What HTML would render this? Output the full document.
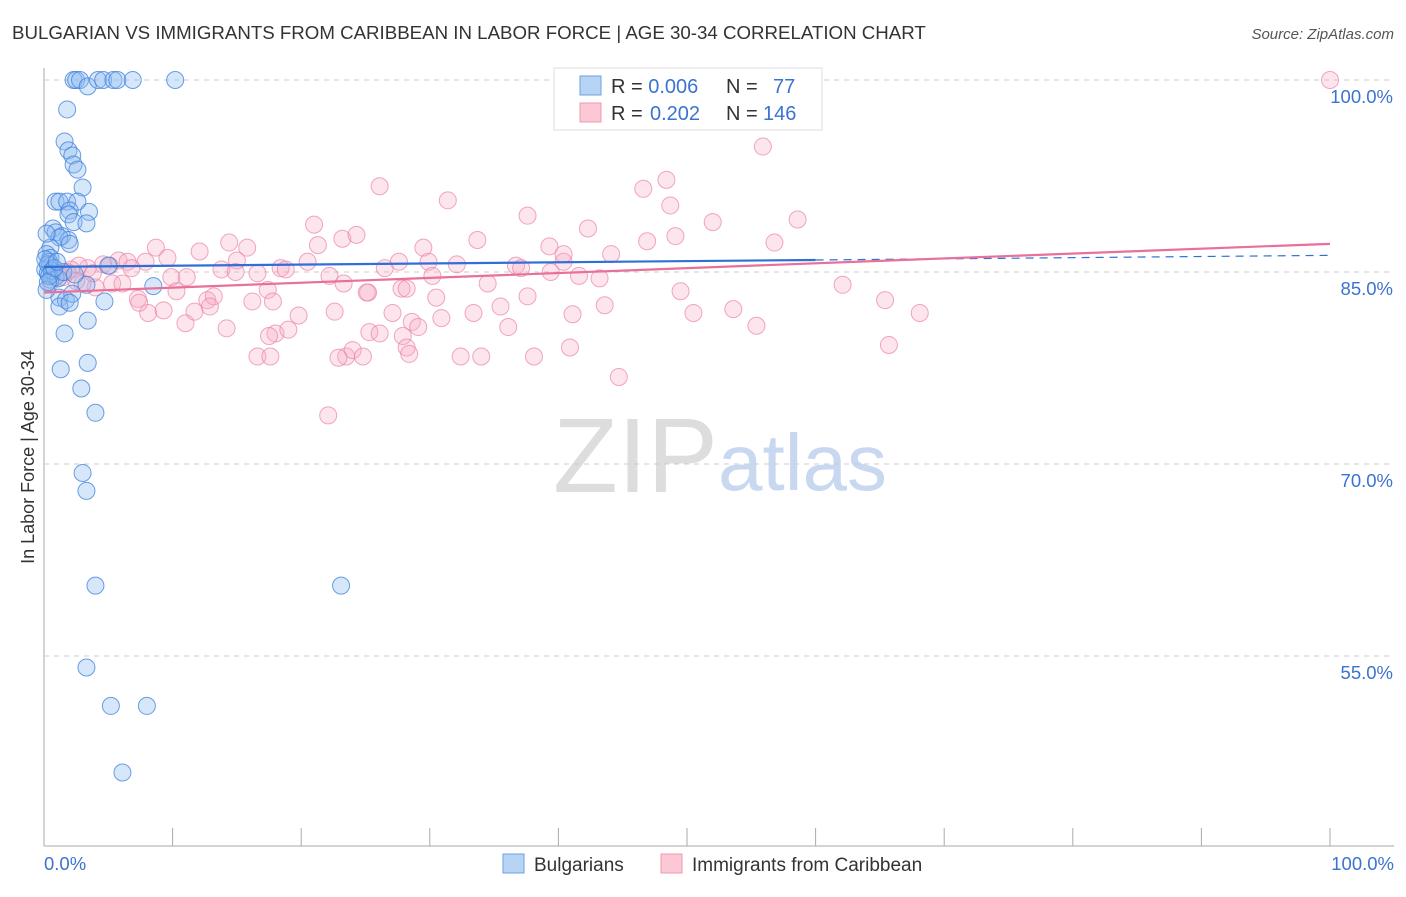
<!DOCTYPE html>
<html><head><meta charset="utf-8"><style>
body{margin:0;background:#fff;font-family:"Liberation Sans",sans-serif;}
svg text{font-family:"Liberation Sans",sans-serif;}
</style></head><body>
<svg id="chart" width="1406" height="892">
<text x="12" y="39" font-size="18.7" fill="#333">BULGARIAN VS IMMIGRANTS FROM CARIBBEAN IN LABOR FORCE | AGE 30-34 CORRELATION CHART</text>
<text x="1394" y="39" font-size="15" fill="#555" text-anchor="end" font-style="italic">Source: ZipAtlas.com</text>
<text x="34" y="457" font-size="18" fill="#333" text-anchor="middle" transform="rotate(-90 34 457)">In Labor Force | Age 30-34</text>
<text x="553" y="492" font-size="106" fill="#ddd" font-family="Liberation Serif">ZIP</text>
<text x="718" y="490" font-size="80" fill="#c8d8f0">atlas</text>
<g id="grid"></g><g id="pts"></g><g id="trend"></g>
<g>
<rect x="554" y="68" width="268" height="62" fill="#fff" stroke="#ddd"/>
<rect x="580" y="76" width="21" height="19" fill="#b8d4f5" stroke="#6fa0e0"/>
<rect x="580" y="103" width="21" height="19" fill="#fcc8d6" stroke="#ee9ab2"/>
<text x="611" y="93" font-size="20" fill="#333">R = <tspan fill="#3b73d0">0.006</tspan><tspan x="726">N =</tspan><tspan x="773" fill="#3b73d0">77</tspan></text>
<text x="611" y="120" font-size="20" fill="#333">R = <tspan x="650" fill="#3b73d0">0.202</tspan><tspan x="726">N =</tspan><tspan x="763" fill="#3b73d0">146</tspan></text>
</g>
<g>
<rect x="503" y="854" width="21" height="19" fill="#b8d4f5" stroke="#6fa0e0"/>
<text x="534" y="871" font-size="19" fill="#333">Bulgarians</text>
<rect x="661" y="854" width="21" height="19" fill="#fcc8d6" stroke="#ee9ab2"/>
<text x="692" y="871" font-size="19" fill="#333">Immigrants from Caribbean</text>
</g>
</svg>
<script>
const blueX=[2.3,2.5,2.8,3.4,4.2,4.6,5.4,5.7,6.9,10.2,1.8,1.6,1.9,2.2,2.3,2.6,3.0,0.9,1.2,1.8,2.6,2.0,1.9,3.5,2.3,3.3,0.7,0.9,1.4,1.9,1.2,2.0,0.5,0.2,0.5,0.4,0.5,0.1,0.3,0.6,0.9,0.5,3.3,8.5,1.2,1.7,2.2,4.7,1.2,2.0,3.4,1.6,1.3,3.4,2.9,4.0,3.0,3.3,4.0,23.1,3.3,5.2,8.0,6.1,5.0,0.6,1.1,0.2,0.3,0.1,0.4,1.5,2.4,0.8,0.3,1.0,0.2];
const blueY=[100,100,100,99.5,100,100,100,100,100,100,97.7,95.2,94.5,94.1,93.4,93.0,91.6,90.5,90.5,90.5,90.5,89.8,89.5,89.7,88.9,88.8,88.4,88.1,87.8,87.5,87.7,87.2,86.9,86.4,86.1,85.8,85.5,85.2,84.9,84.8,84.6,84.4,84.0,83.9,83.0,82.8,83.3,82.7,82.3,82.6,81.2,80.2,77.4,77.9,75.9,74.0,69.3,67.9,60.5,60.5,54.1,51.1,51.1,45.9,85.5,85.1,84.5,83.6,85.6,86.0,84.7,85.0,84.8,85.3,84.2,85.8,88.0];
const pinkX=[100,55.9,26.1,31.4,46.6,48.4,48.7,37.6,52.0,58.6,21.0,23.2,24.3,21.3,33.7,39.3,42.3,46.9,49.1,56.8,14.4,15.8,12.1,8.7,9.6,5.8,6.5,7.9,4.6,3.4,2.7,2.1,1.1,0.7,5.1,6.8,9.9,11.1,13.8,15.0,14.9,16.6,18.4,18.8,20.5,22.2,23.3,25.2,26.5,27.6,27.8,29.5,29.9,30.2,32.1,34.5,36.7,37.1,39.4,40.4,41.6,43.2,40.4,44.1,4.0,5.3,3.0,7.3,8.1,9.3,10.3,11.0,12.7,11.7,13.2,12.9,14.2,16.2,17.4,17.8,19.8,18.0,19.0,22.6,25.1,23.5,24.0,22.9,24.8,25.3,27.1,26.1,27.9,28.6,29.1,30.5,33.4,35.5,36.1,37.6,30.9,28.2,28.4,32.4,34.0,38.1,40.9,41.1,43.6,44.7,49.5,50.5,53.6,55.4,62.1,65.4,68.1,65.7,22.1,16.6,17.6,28.2,6.1,7.4,17.5,1.5,2.5,3.8,0.5,1.8];
const pinkY=[100,94.8,91.7,90.6,91.5,92.2,90.2,89.4,88.9,89.1,88.7,87.6,87.9,87.1,87.5,87.0,88.4,87.4,87.8,87.3,87.3,86.9,86.6,86.9,86.1,85.9,85.8,85.8,85.6,85.3,85.5,85.2,84.8,85.3,85.5,85.3,84.6,84.6,85.2,85.9,85.0,84.9,85.3,85.2,85.8,84.7,84.1,83.4,85.3,85.8,83.7,86.9,85.8,84.7,85.6,84.1,85.5,85.3,85.0,85.8,84.7,84.5,86.4,86.4,83.8,84.1,84.1,82.9,81.8,82.0,83.5,81.0,82.8,81.9,83.1,82.3,80.6,82.7,83.6,82.7,81.6,80.2,80.5,81.9,83.4,78.4,78.9,78.3,78.4,80.3,81.8,80.2,80.0,81.1,80.7,83.0,81.8,82.3,80.7,83.1,81.4,79.1,78.6,78.4,78.4,78.4,79.1,81.7,82.4,76.8,83.5,81.8,82.1,80.8,84.0,82.8,81.8,79.3,73.8,78.4,78.4,83.7,84.1,82.6,80.0,84.6,84.3,84.9,84.2,85.0];
const blueTrend=[85.4,86.3], pinkTrend=[83.4,87.2];
const yTicks=[100,85,70,55];
const X=v=>44+v*12.86, Y=v=>80+(100-v)*12.8;
const NS='http://www.w3.org/2000/svg';
function mk(t,a,p){const e=document.createElementNS(NS,t);for(const k in a)e.setAttribute(k,a[k]);p.appendChild(e);return e;}
const grid=document.getElementById('grid');
const ax=mk('line',{x1:44,y1:68,x2:44,y2:846,stroke:'#aaa'},grid);


const bx=mk('line',{x1:44,y1:846,x2:1394,y2:846,stroke:'#aaa'},grid);


yTicks.forEach(v=>{
 const l=mk('line',{x1:44,y1:Y(v),x2:1394,y2:Y(v),stroke:'#ccc','stroke-dasharray':'5,5'},grid);
 
 
 const t=mk('text',{x:1393,y:Y(v)+23,'font-size':18.5,fill:'#3b73d0','text-anchor':'end'},grid);
 t.textContent=v.toFixed(1)+'%';
 
 
});
for(let i=1;i<=10;i++){
 const l=mk('line',{x1:X(i*10),y1:828,x2:X(i*10),y2:846,stroke:'#aaa'},grid);
 
 
}
[['0.0%',44,'start'],['100.0%',1394,'end']].forEach(([s,x,a])=>{
 const t=mk('text',{x:x,y:870,'font-size':18.5,fill:'#3b73d0','text-anchor':a},grid);t.textContent=s;
 
 
});
const pts=document.getElementById('pts');
pinkX.forEach((x,i)=>{
 const c=mk('circle',{cx:X(x),cy:Y(pinkY[i]),r:8.5,fill:'rgba(248,170,195,0.3)',stroke:'rgba(235,130,165,0.7)','stroke-width':1},pts);
 
 
});
blueX.forEach((x,i)=>{
 const c=mk('circle',{cx:X(x),cy:Y(blueY[i]),r:8.5,fill:'rgba(140,185,240,0.35)',stroke:'rgba(60,125,220,0.75)','stroke-width':1},pts);
 
 
});
const tr=document.getElementById('trend');
const bAt=x=>blueTrend[0]+(blueTrend[1]-blueTrend[0])*x/100;
const b1=mk('line',{x1:X(0),y1:Y(bAt(0)),x2:X(60),y2:Y(bAt(60)),stroke:'#2f6fd6','stroke-width':2.2},tr);


const b2=mk('line',{x1:X(60),y1:Y(bAt(60)),x2:X(100),y2:Y(bAt(100)),stroke:'#2f6fd6','stroke-width':1.2,'stroke-dasharray':'8,6'},tr);


const p1=mk('line',{x1:X(0),y1:Y(pinkTrend[0]),x2:X(100),y2:Y(pinkTrend[1]),stroke:'#e8709a','stroke-width':2.2},tr);


</script>
</body></html>
